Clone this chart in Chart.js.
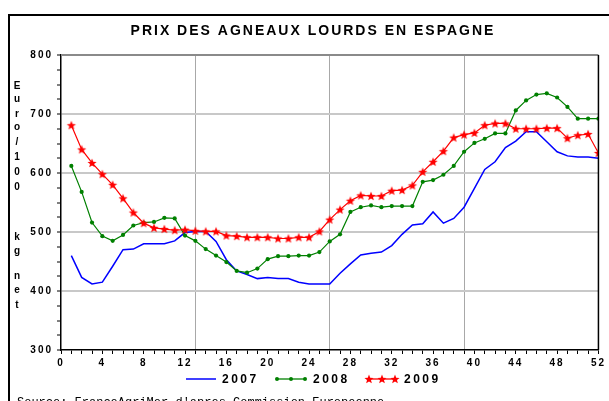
<!DOCTYPE html>
<html><head><meta charset="utf-8">
<script src="https://cdn.jsdelivr.net/npm/chart.js@4.4.1/dist/chart.umd.min.js"></script>
<style>html,body{margin:0;padding:0;background:#fff;overflow:hidden}canvas{display:block}</style>
</head><body>
<canvas id="c" width="609" height="401"></canvas>
<script>
const weeks = [1,2,3,4,5,6,7,8,9,10,11,12,13,14,15,16,17,18,19,20,21,22,23,24,25,26,27,28,29,30,31,32,33,34,35,36,37,38,39,40,41,42,43,44,45,46,47,48,49,50,51,52];
const prix2007 = [460,423,412,415,442,470,471,480,480,480,485,499,501,501,484,453,434,428,421,423,421,421,415,412,412,412,430,446,461,464,466,477,496,512,514,534,515,523,542,574,606,619,643,654,670,670,653,636,629,627,627,625];
const prix2008 = [612,568,516,493,485,495,511,516,517,524,523,494,485,471,460,449,434,431,438,454,459,459,460,460,466,484,496,534,542,545,542,544,544,544,585,588,597,612,636,651,658,667,667,706,723,733,735,728,712,692,692,692];
const prix2009 = [681,640,617,598,580,557,533,515,507,505,503,504,502,501,501,494,493,491,491,491,489,489,491,491,501,521,538,553,562,561,561,570,571,579,602,619,637,660,665,668,681,684,684,675,675,675,676,676,659,664,666,634];
const xTickLabels = [0,4,8,12,16,20,24,28,32,36,40,44,48,52];
const yTickLabels = [300,400,500,600,700,800];
const xGridWeeks = [13,26,39];
const yGridValues = [400,500,600,700];
const seriesNames = ['2007','2008','2009'];
const titleText = 'PRIX DES AGNEAUX LOURDS EN ESPAGNE';
const yTitleChars = ['E','u','r','o','/','1','0','0','k','g','n','e','t'];
const sourceText = "Source: FranceAgriMer d'apres Commission Europeenne";

const BLUE = '#0000ff', GREEN = '#008000', RED = '#ff0000';
const FONT = "'Liberation Sans', Arial, sans-serif";

function makeStar(R, r) {
  const s = Math.ceil(R * 2 + 2);
  const c = document.createElement('canvas');
  c.width = s; c.height = s;
  const g = c.getContext('2d');
  g.fillStyle = RED;
  g.beginPath();
  for (let i = 0; i < 10; i++) {
    const rad = i % 2 ? r : R;
    const a = -Math.PI / 2 + i * Math.PI / 5;
    g.lineTo(s / 2 + rad * Math.cos(a), s / 2 + 0.4 + rad * Math.sin(a));
  }
  g.closePath(); g.fill();
  return c;
}
const star = makeStar(4.8, 2.1);

const pts = arr => weeks.map((w, i) => ({x: w, y: arr[i]}));

const deco = {
  id: 'deco',
  beforeLayout(chart) { chart.ctx.letterSpacing = '2px'; },
  beforeDraw(chart) {
    const ctx = chart.ctx;
    ctx.save();
    // outer frame
    ctx.strokeStyle = '#000'; ctx.lineWidth = 2;
    ctx.beginPath(); ctx.moveTo(9, 402); ctx.lineTo(9, 15); ctx.lineTo(612, 15); ctx.stroke();
    // title
    ctx.fillStyle = '#000';
    ctx.font = 'bold 14px ' + FONT;
    ctx.letterSpacing = '2px';
    ctx.textAlign = 'center'; ctx.textBaseline = 'middle';
    ctx.fillText(titleText, 313, 31);
    // y title stacked
    ctx.font = 'bold 10px ' + FONT;
    ctx.letterSpacing = '0px';
    const ys = [86,99,114,127,142,157,172,187,237,251,276,290,305];
    yTitleChars.forEach((ch, i) => ctx.fillText(ch, 17, ys[i]));
    // legend
    const ly = 379;
    const items = [
      {x0: 186, x1: 216, tx: 222, color: BLUE, mark: null},
      {x0: 277, x1: 305, tx: 313, color: GREEN, mark: 'dot'},
      {x0: 369, x1: 395, tx: 404, color: RED, mark: 'star'}
    ];
    items.forEach((it, i) => {
      ctx.strokeStyle = it.color; ctx.lineWidth = it.mark ? 1.3 : 1.5;
      ctx.beginPath(); ctx.moveTo(it.x0, ly); ctx.lineTo(it.x1, ly); ctx.stroke();
      if (it.mark) {
        [it.x0, (it.x0 + it.x1) / 2, it.x1].forEach(px => {
          if (it.mark === 'dot') {
            ctx.fillStyle = GREEN; ctx.beginPath(); ctx.arc(px, ly, 2, 0, Math.PI * 2); ctx.fill();
          } else {
            ctx.drawImage(star, px - star.width / 2, ly - star.height / 2);
          }
        });
      }
      ctx.fillStyle = '#000';
      ctx.font = 'bold 12px ' + FONT;
      ctx.letterSpacing = '2.5px';
      ctx.textAlign = 'left';
      ctx.fillText(seriesNames[i], it.tx, ly + 1);
    });
    // source
    ctx.font = "12px 'Liberation Mono', 'DejaVu Sans Mono', monospace";
    ctx.letterSpacing = '0px';
    ctx.textAlign = 'left'; ctx.textBaseline = 'alphabetic';
    ctx.fillText(sourceText, 17, 406);
    ctx.restore();
    ctx.letterSpacing = '2px';
  },
  afterDraw(chart) {
    const ctx = chart.ctx, a = chart.chartArea;
    ctx.save();
    ctx.strokeStyle = '#8a8a8a'; ctx.lineWidth = 2;
    ctx.beginPath(); ctx.moveTo(a.left, a.top); ctx.lineTo(a.right, a.top); ctx.stroke();
    ctx.strokeStyle = '#000'; ctx.lineWidth = 1.5;
    ctx.beginPath(); ctx.moveTo(a.right, a.top); ctx.lineTo(a.right, a.bottom); ctx.stroke();
    ctx.restore();
  }
};

new Chart(document.getElementById('c'), {
  type: 'line',
  data: {
    datasets: [
      {label: seriesNames[0], data: pts(prix2007), borderColor: BLUE, borderWidth: 1.5, pointRadius: 0, order: 2, tension: 0},
      {label: seriesNames[1], data: pts(prix2008), borderColor: GREEN, backgroundColor: GREEN, borderWidth: 1.2, pointRadius: 2.1, pointBorderWidth: 0, pointBackgroundColor: GREEN, order: 1, tension: 0},
      {label: seriesNames[2], data: pts(prix2009), borderColor: RED, backgroundColor: RED, borderWidth: 1.2, pointStyle: star, order: 0, tension: 0}
    ]
  },
  options: {
    responsive: false, animation: false, devicePixelRatio: 1,
    layout: {padding: {left: 0, right: 4, top: 55, bottom: 0}},
    plugins: {legend: {display: false}, title: {display: false}, tooltip: {enabled: false}},
    scales: {
      x: {
        type: 'linear', min: 0, max: 52,
        afterFit(s) { s.height = 51; },
        ticks: {stepSize: 1, autoSkip: false, maxRotation: 0, padding: 3, color: '#000',
          font: {family: FONT, weight: 'bold', size: 10},
          callback: v => xTickLabels.includes(v) ? String(v) : ''},
        grid: {color: c => (c.tick && xGridWeeks.includes(c.tick.value)) ? '#a8a8a8' : 'rgba(0,0,0,0)',
          lineWidth: 1, tickColor: '#000', tickLength: 4, tickWidth: 1},
        border: {color: '#000', width: 1.5}
      },
      y: {
        min: 300, max: 800,
        afterFit(s) { s.width = 61; },
        ticks: {stepSize: 25, autoSkip: false, padding: 4, color: '#000',
          font: {family: FONT, weight: 'bold', size: 10},
          callback: v => yTickLabels.includes(v) ? String(v) : ''},
        grid: {color: c => (c.tick && yGridValues.includes(c.tick.value)) ? '#c8c8c8' : 'rgba(0,0,0,0)',
          lineWidth: 2, tickColor: '#000', tickLength: 4, tickWidth: 1},
        border: {color: '#000', width: 1.5}
      }
    }
  },
  plugins: [deco]
});
</script>
</body></html>
